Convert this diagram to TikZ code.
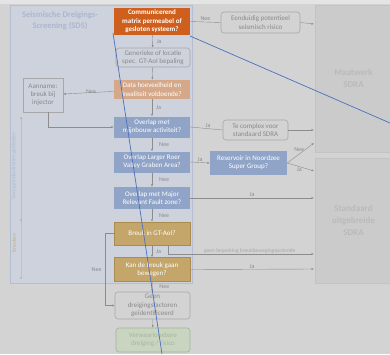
\documentclass[tikz,border=0pt]{standalone}
\usepackage{fontspec}
\setmainfont{Carlito}
\usetikzlibrary{arrows.meta}
\definecolor{bgcol}{HTML}{D3D3D3}
\definecolor{panelfill}{HTML}{CDD2DC}
\definecolor{paneldraw}{HTML}{B3BED2}
\definecolor{orangebox}{HTML}{CF5F1C}
\definecolor{tanbox}{HTML}{D6A88A}
\definecolor{bluebox}{HTML}{90A4C8}
\definecolor{goldbox}{HTML}{C4A56A}
\definecolor{golddraw}{HTML}{A88C50}
\definecolor{greytext}{HTML}{8A8A8A}
\definecolor{greydraw}{HTML}{A8A8A8}
\definecolor{greenfill}{HTML}{C9D5C0}
\definecolor{greendraw}{HTML}{9FB596}
\definecolor{greentext}{HTML}{A3B89A}
\definecolor{sdrafill}{HTML}{CBCBCB}
\definecolor{sdradraw}{HTML}{C3C3C3}
\definecolor{sdratext}{HTML}{BABABA}
\definecolor{linecol}{HTML}{8C8C8C}
\definecolor{pencol}{HTML}{4A6FC0}
\definecolor{titlecol}{HTML}{AAB8D0}
\tikzset{
  box/.style={align=center, inner sep=0pt, font=\fontsize{7}{8.2}\selectfont},
  question/.style={box, text=white, minimum width=76pt},
  outcome/.style={box, draw=greydraw, rounded corners=3pt, text=greytext, line width=0.6pt},
  sdra/.style={fill=sdrafill, draw=sdradraw, inner sep=0pt, align=center, text=sdratext,
    font=\fontsize{9}{12}\selectfont\bfseries},
  arr/.style={draw=linecol, line width=0.4pt, -{Latex[length=2.5pt,width=2pt]}},
  lbl/.style={text=greytext, font=\fontsize{6}{7}\selectfont, inner sep=0pt},
  pen/.style={draw=pencol, line width=0.7pt}
}
\begin{document}
\begin{tikzpicture}[x=1pt,y=-1pt]
  % canvas
  \fill[bgcol] (0,0) rectangle (390,354);
  \fill[bgcol!60!white] (0,0) rectangle (390,4);
  \useasboundingbox (0,0) rectangle (390,354);

  % screening panel
  \node[fill=panelfill, draw=paneldraw, line width=0.6pt, minimum width=182pt,
        minimum height=278pt, inner sep=0pt] (panel) at (101,144) {};
  \node[text=titlecol, align=center, font=\fontsize{8.5}{11}\selectfont\bfseries] (title)
    at (60,21) {Seismische Dreigings-\\Screening (SDS)};

  % SDRA target areas
  \node[sdra, minimum width=77pt, minimum height=147pt] (maat) at (353.5,78.5) {Maatwerk\\SDRA};
  \node[sdra, minimum width=77pt, minimum height=125pt] (stand) at (353.5,220.5) {Standaard\\uitgebreide\\SDRA};

  % group brackets on the left
  \coordinate (b1) at (21,118);
  \coordinate (b2) at (21,220);
  \coordinate (b3) at (21,278);
  \draw[titlecol!80!black!60, line width=0.4pt] (b1) -- (b2);
  \draw[goldbox!70, line width=0.4pt] (b2) -- (b3);
  \foreach \p in {b1,b2,b3} \fill[greydraw] (\p) circle (0.9pt);
  \node[rotate=90, text=titlecol, font=\fontsize{5.5}{6}\selectfont] (grpA) at (14,166) {Voorgrondpatronen gebieden};
  \node[rotate=90, text=goldbox!90, font=\fontsize{5.5}{6}\selectfont] (grpB) at (14,243) {Breuken};

  % decision chain
  \node[question, fill=orangebox, minimum height=27pt, font=\fontsize{7}{8.5}\selectfont\bfseries] (q1)
    at (152,21.5) {Communicerend\\matrix permeabel of\\gesloten systeem?};
  \node[outcome, minimum width=74pt, minimum height=19pt] (gen) at (153,57.5)
    {Generieke of locatie\\spec. GT-AoI bepaling};
  \node[question, fill=tanbox, minimum height=19pt] (data) at (152,89.5)
    {Data hoeveelheid en\\kwaliteit voldoende?};
  \node[outcome, rounded corners=0pt, minimum width=40pt, minimum height=34pt] (aann) at (43,95)
    {Aanname:\\breuk bij\\injector};
  \node[question, fill=bluebox, minimum height=21pt] (mijn) at (152,127)
    {Overlap met\\mijnbouw activiteit?};
  \node[question, fill=bluebox, minimum height=21pt] (roer) at (152,162)
    {Overlap Larger Roer\\Valley Graben Area?};
  \node[question, fill=bluebox, minimum height=22pt] (fault) at (152,198)
    {Overlap met Major\\Relevant Fault zone?};
  \node[question, fill=goldbox, draw=golddraw, line width=0.5pt, minimum height=23pt] (breuk) at (152,233.5)
    {Breuk in GT-AoI?};
  \node[question, fill=goldbox, draw=golddraw, line width=0.5pt, minimum height=24pt] (kan) at (152,269.5)
    {Kan de breuk gaan\\bewegen?};
  \node[outcome, minimum width=75pt, minimum height=27pt] (geen) at (152.5,305.5)
    {Geen\\dreigingsfactoren\\geïdentificeerd};
  \node[outcome, fill=greenfill, draw=greendraw, text=greentext, minimum width=74pt, minimum height=24pt]
    (verw) at (153,340) {Verwaarloosbare\\dreiging / risico};

  % side outcomes
  \node[outcome, minimum width=79pt, minimum height=21pt] (eend) at (260.5,22.5)
    {Eenduidig potentieel\\seismisch risico};
  \node[outcome, minimum width=65pt, minimum height=20pt] (tecx) at (255.5,130)
    {Te complex voor\\standaard SDRA};
  \node[question, fill=bluebox, minimum width=77pt, minimum height=24pt] (resv) at (248.5,163)
    {Reservoir in Noordzee\\Super Group?};

  % entry points on the SDRA areas
  \coordinate (mA) at (314,24);
  \coordinate (mB) at (314,130);
  \coordinate (mC) at (314,143);
  \coordinate (sA) at (314,171);
  \coordinate (sB) at (314,198);
  \coordinate (sC) at (314,254);
  \coordinate (sD) at (314,269);
  \coordinate (kb) at (168,245);

  % main downward flow
  \draw[arr] (q1) -- node[lbl, right=4pt] {Ja} (gen);
  \draw[arr] (gen) -- (data);
  \draw[arr] (data) -- node[lbl, right=4pt] {Ja} (mijn);
  \draw[arr] (mijn) -- node[lbl, right=7pt] {Nee} (roer);
  \draw[arr] (roer) -- node[lbl, right=7pt] {Nee} (fault);
  \draw[arr] (fault) -- node[lbl, right=7pt] {Nee} (breuk);
  \draw[arr] (breuk) -- node[lbl, right=4pt] {Ja} (kan);
  \draw[arr] (kan) -- node[lbl, right=7pt] {Nee} (geen);
  \draw[arr] (geen) -- (verw);

  % side branches
  \draw[arr] (data) -- node[lbl, above=-1pt, pos=0.45] {Nee} (aann);
  \draw[arr] ([xshift=5pt]aann.south) |- (mijn.west);
  \draw[arr] (breuk.west) -- ++(-9,0) |- node[lbl, pos=0.25, left=3pt] {Nee} (geen.west);
  \draw[linecol, line width=0.4pt] (q1.east) -- node[lbl, above=1pt] {Nee} (eend.west);
  \draw[arr] (eend.east) -- (mA);
  \draw[linecol, line width=0.4pt] (mijn.east) -- node[lbl, above=1pt, pos=0.55] {Ja} (tecx.west);
  \draw[arr] (tecx.east) -- (mB);
  \draw[arr] (roer.east) -- node[lbl, above=1pt] {Ja} (resv.west);
  \draw[arr] (resv.east) -- node[lbl, above=2pt, pos=0.45] {Nee} (mC);
  \draw[arr] (resv.east) -- node[lbl, below=1pt, pos=0.45] {Ja} (sA);
  \draw[arr] (fault.east) -- node[lbl, above=1pt] {Ja} (sB);
  \draw[arr] (kb) |- node[lbl, above=0.8pt, pos=0.78, font=\fontsize{5.5}{6}\selectfont, text=greytext!75]
    {geen beperking breukbewegingspotentie} (sC);
  \draw[arr] (kan.east) -- node[lbl, above=1pt] {Ja} (sD);

  % pen strokes drawn over the slide
  \draw[pen] (113,33) -- (162,354);
  \draw[pen] (190,36) -- (390,123);
\end{tikzpicture}
\end{document}
